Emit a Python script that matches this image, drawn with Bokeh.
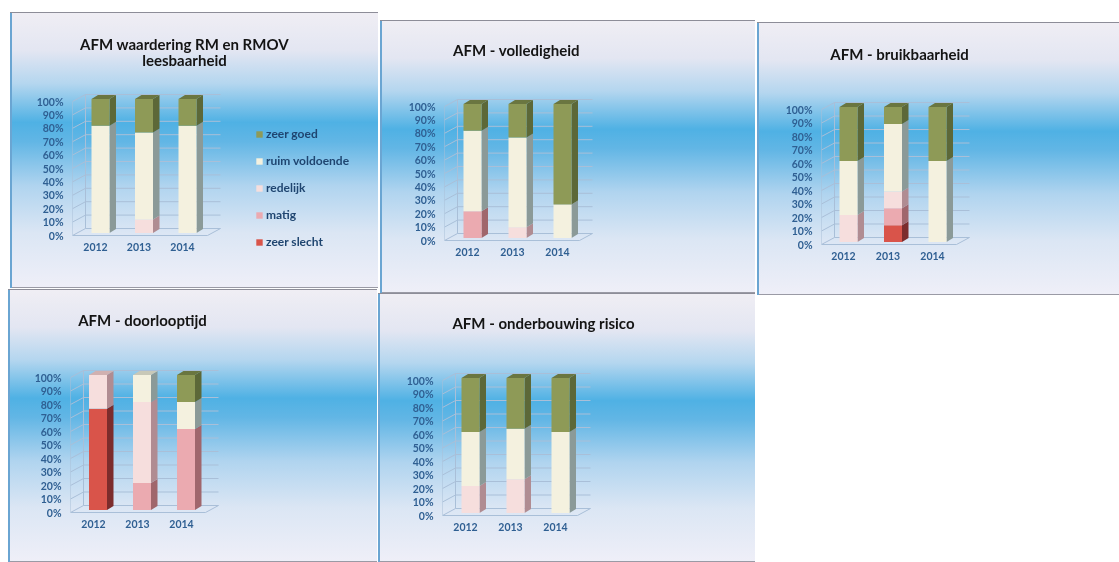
from bokeh.embed import file_html
from bokeh.resources import INLINE
from bokeh.plotting import figure
from bokeh.layouts import row, column
from bokeh.models import (Range1d, FixedTicker, PrintfTickFormatter, Label, Legend, LegendItem)

years = ["2012", "2013", "2014"]
series_names = ["zeer slecht", "matig", "redelijk", "ruim voldoende", "zeer goed"]
pct_ticks = [0, 10, 20, 30, 40, 50, 60, 70, 80, 90, 100]

# percentages per year, in the order of series_names
leesbaarheid_zeer_slecht = [0, 0, 0]
leesbaarheid_matig = [0, 0, 0]
leesbaarheid_redelijk = [0, 10, 0]
leesbaarheid_ruim = [80, 65, 80]
leesbaarheid_goed = [20, 25, 20]

volledigheid_zeer_slecht = [0, 0, 0]
volledigheid_matig = [20, 0, 0]
volledigheid_redelijk = [0, 8, 0]
volledigheid_ruim = [60, 67, 25]
volledigheid_goed = [20, 25, 75]

bruikbaarheid_zeer_slecht = [0, 12.5, 0]
bruikbaarheid_matig = [0, 12.5, 0]
bruikbaarheid_redelijk = [20, 12.5, 0]
bruikbaarheid_ruim = [40, 50, 60]
bruikbaarheid_goed = [40, 12.5, 40]

doorlooptijd_zeer_slecht = [75, 0, 0]
doorlooptijd_matig = [0, 20, 60]
doorlooptijd_redelijk = [25, 60, 0]
doorlooptijd_ruim = [0, 20, 20]
doorlooptijd_goed = [0, 0, 20]

risico_zeer_slecht = [0, 0, 0]
risico_matig = [0, 0, 0]
risico_redelijk = [20, 25, 0]
risico_ruim = [40, 37.5, 60]
risico_goed = [40, 37.5, 40]

FRONT = ["#d9544a", "#ebaab0", "#f6dedd", "#f4f1df", "#8e9a57"]
SIDE = ["#7c2c2c", "#a0666c", "#b08c92", "#8b9a98", "#5c6838"]
TOP = ["#a33a36", "#c08088", "#d0b0b0", "#c8c8b8", "#6a7640"]
GRAD = ("linear-gradient(180deg,#f0eef4 0%,#e3e6f2 14%,#b4d6ef 26%,#4fb1e4 40%,"
        "#62b6e5 47%,#b0d4ef 63%,#dbe6f4 80%,#efeff8 100%)")
FONT = "Lato"


def panel(title_lines, title_x, title_ys, data, left, top, w, h, ax, y0, y100, c0, step, bar_c0,
          margin, legend=False):
    ppu = (y0 - y100) / 100.0
    xr = Range1d((ax - c0) / step, (left + w - c0) / step)
    yr = Range1d((y0 - (top + h)) / ppu, (y0 - top) / ppu)
    p = figure(width=w, height=h, x_range=xr, y_range=yr, output_backend="svg", toolbar_location=None,
               min_border_left=ax - left, min_border_right=0, min_border_top=0,
               min_border_bottom=0, background_fill_color=None, border_fill_color=None,
               outline_line_color=None, margin=margin,
               styles={"background": GRAD, "filter": "blur(0.5px)",
                       "box-shadow": "inset 0 1px 0 #8d8d98, inset 2px 0 0 #6aa5d2, inset 0 -1px 0 #9a9aa5"})
    p.grid.visible = False

    X = lambda px: (px - c0) / step
    Y = lambda py: (y0 - py) / ppu

    # y axis
    a = p.yaxis[0]
    a.ticker = FixedTicker(ticks=pct_ticks)
    a.formatter = PrintfTickFormatter(format="%d%%")
    a.axis_line_color = None
    a.major_tick_line_color = None
    a.minor_tick_line_color = None
    a.major_label_standoff = 3
    a.major_label_text_font = FONT
    a.major_label_text_font_style = "bold"
    a.major_label_text_font_size = "10.5px"
    a.major_label_text_color = "#2f5f92"
    # x axis, inside the frame at the 0% level
    b = p.xaxis[0]
    b.fixed_location = 0
    b.ticker = FixedTicker(ticks=[0, 1, 2])
    b.major_label_overrides = {i: years[i] for i in range(3)}
    b.axis_line_color = None
    b.major_tick_line_color = None
    b.minor_tick_line_color = None
    b.major_label_standoff = 1
    b.major_label_text_font = FONT
    b.major_label_text_font_style = "bold"
    b.major_label_text_font_size = "10.5px"
    b.major_label_text_color = "#2f5f92"

    # walls and floor of the 3-D box
    dx, dy = 13 / step, 7 / ppu
    wall_w = 135 / step
    x_front = X(ax)
    grid = "#a9bfd8"
    p.segment(x0=[x_front] * 11, y0=pct_ticks, x1=[x_front + dx] * 11, y1=[t + dy for t in pct_ticks],
              line_color=grid, line_width=1)
    p.segment(x0=[x_front + dx] * 11, y0=[t + dy for t in pct_ticks],
              x1=[x_front + dx + wall_w] * 11, y1=[t + dy for t in pct_ticks],
              line_color=grid, line_width=1)
    p.segment(x0=[x_front, x_front + dx, x_front],
              y0=[0, dy, 0], x1=[x_front, x_front + dx, x_front + wall_w],
              y1=[100, 100 + dy, 0], line_color=grid, line_width=1)
    p.segment(x0=[x_front + wall_w], y0=[0], x1=[x_front + dx + wall_w], y1=[dy],
              line_color=grid, line_width=1)

    # stacked bars with side and top faces
    bar_shift = (bar_c0 - c0) / step
    half = 9 / step
    sdx, sdy = 6.5 / step, 4 / ppu
    lift = 2.5 / ppu
    bottoms = [0, 0, 0]
    renderers = {}
    centers = [i + bar_shift for i in range(3)]
    for s, vals in enumerate(data):
        bot = [b0 + lift for b0 in bottoms]
        tops = [b0 + v for b0, v in zip(bot, vals)]
        xs, ys = [], []
        for c, v, b0, t0 in zip(centers, vals, bot, tops):
            if v > 0:
                xs.append([c + half, c + half + sdx, c + half + sdx, c + half])
                ys.append([b0, b0 + sdy, t0 + sdy, t0])
        if xs:
            p.patches(xs, ys, fill_color=SIDE[s], line_color=None)
        renderers[s] = p.vbar(x=centers, bottom=bot, top=tops, width=2 * half,
                              fill_color=FRONT[s], line_color=None)
        bottoms = [b0 + v for b0, v in zip(bottoms, vals)]
        xs, ys = [], []
        for c, v, t0 in zip(centers, vals, tops):
            if v > 0 and t0 >= 100 + lift - 0.01:
                xs.append([c - half, c + half, c + half + sdx, c - half + sdx])
                ys.append([t0, t0, t0 + sdy, t0 + sdy])
        if xs:
            p.patches(xs, ys, fill_color=TOP[s], line_color=None)

    for line, ty in zip(title_lines, title_ys):
        p.add_layout(Label(x=X(title_x), y=Y(ty), text=line, text_align="center", text_baseline="middle",
                           text_font=FONT, text_font_style="bold", text_font_size="15px",
                           text_color="#141414"))

    if legend:
        items = [LegendItem(label=series_names[s], renderers=[renderers[s]]) for s in range(4, -1, -1)]
        lg = Legend(items=items, location=(183, 39), orientation="vertical", border_line_color=None,
                    background_fill_color=None, background_fill_alpha=0, padding=0, margin=0, spacing=12,
                    glyph_width=8, glyph_height=8, label_height=14, label_standoff=3,
                    label_text_font=FONT, label_text_font_style="bold", label_text_font_size="12px",
                    label_text_color="#1f4570")
        p.add_layout(lg, "center")
    return p


p1 = panel(["AFM waardering RM en RMOV", "leesbaarheid"], 184, [43, 59],
           [leesbaarheid_zeer_slecht, leesbaarheid_matig, leesbaarheid_redelijk, leesbaarheid_ruim, leesbaarheid_goed],
           10, 12, 368, 276, 72, 235, 101, 95, 43.5, 100, (12, 0, 0, 10), legend=True)
p4 = panel(["AFM - doorlooptijd"], 142, [319],
           [doorlooptijd_zeer_slecht, doorlooptijd_matig, doorlooptijd_redelijk, doorlooptijd_ruim, doorlooptijd_goed],
           8, 289, 369, 273, 70, 512, 377, 93, 44, 97.5, (1, 0, 0, 8))
p2 = panel(["AFM - volledigheid"], 516, [49],
           [volledigheid_zeer_slecht, volledigheid_matig, volledigheid_redelijk, volledigheid_ruim, volledigheid_goed],
           380, 20, 375, 273, 444, 240, 106, 467, 45, 472, (20, 0, 0, 2))
p5 = panel(["AFM - onderbouwing risico"], 543, [322],
           [risico_zeer_slecht, risico_matig, risico_redelijk, risico_ruim, risico_goed],
           378, 293, 377, 269, 442, 515, 380, 465, 45, 470, (0, 0, 0, 0))
p3 = panel(["AFM - bruikbaarheid"], 899, [53],
           [bruikbaarheid_zeer_slecht, bruikbaarheid_matig, bruikbaarheid_redelijk, bruikbaarheid_ruim, bruikbaarheid_goed],
           757, 22, 362, 273, 821, 244, 109, 843, 44.5, 848, (22, 0, 0, 2))

root = row(column(p1, p4, spacing=0), column(p2, p5, spacing=0), p3, spacing=0)
open("out.html", "w").write(file_html(root, INLINE))
